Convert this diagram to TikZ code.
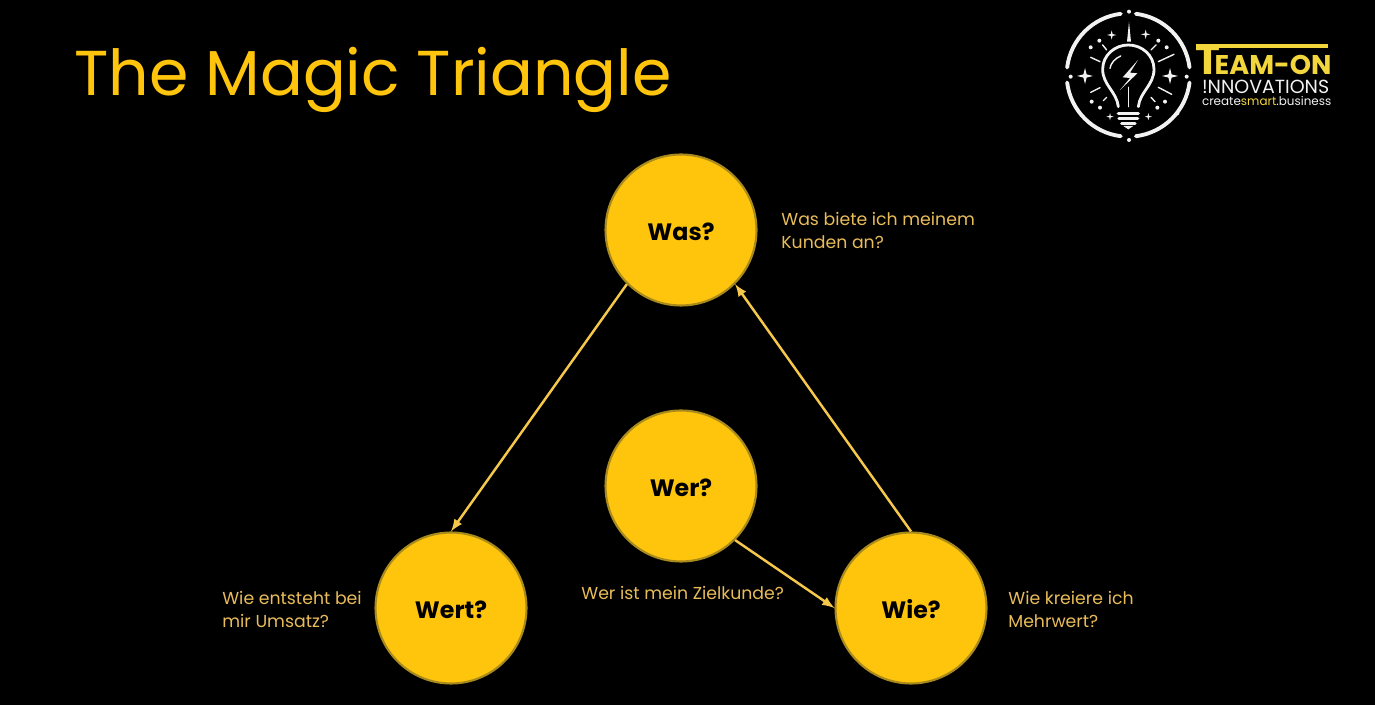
\documentclass[tikz,border=0pt]{standalone}
\usepackage{fontspec}
\setmainfont{Poppins}
\usetikzlibrary{calc}

\definecolor{gold}{HTML}{FFC50D}
\definecolor{goldline}{HTML}{A98A1C}
\definecolor{arrowgold}{HTML}{F5C84C}
\definecolor{labelgold}{HTML}{E9BC5A}
\definecolor{logoyellow}{HTML}{F2D63C}
\definecolor{logowhite}{HTML}{F2F2F2}

\tikzset{
bubble/.style={circle,fill=gold,draw=goldline,line width=1.2pt,minimum size=3.02cm,inner sep=0pt,text=black,text height=12pt,text depth=0pt,font=\fontsize{13.5}{16}\selectfont\bfseries},
link/.style={draw=arrowgold,line width=1.4pt,-latex},
hint/.style={anchor=north west,inner sep=0pt,align=left,text=labelgold,font=\fontsize{9.85}{13}\selectfont},
logoline/.style={draw=logowhite,line width=1.6pt,line cap=round},
logoray/.style={draw=logowhite,line width=.8pt,line cap=round},
logotext/.style={anchor=base west,inner sep=0pt}
}
\newcommand{\logostar}[2]{\fill[logowhite] (#1) +(-#2,0) -- +(-#2*.2,-#2*.2) -- +(0,-#2) -- +(#2*.2,-#2*.2) -- +(#2,0) -- +(#2*.2,#2*.2) -- +(0,#2) -- +(-#2*.2,#2*.2) -- cycle;}

\begin{document}
\begin{tikzpicture}[x=0.02cm,y=-0.02cm]
\useasboundingbox (0,0) rectangle (1375,705);
\fill[black] (0,0) rectangle (1375,705);

\node[anchor=base west,inner sep=0pt,text=gold,font=\fontsize{36.1}{40}\selectfont] (title) at (74,96){The Magic Triangle};

\node[bubble] (was) at (681,230){Was?};
\node[bubble] (wer) at (681,486){Wer?};
\node[bubble] (wert) at (451,608){Wert?};
\node[bubble] (wie) at (911,608){Wie?};

\draw[link] (was.225) -- (wert.north);
\draw[link] (wie.north) -- (was.-45);
\draw[link] (wer.-45) -- (wie.west);

\node[hint] (washint) at (781,212){Was biete ich meinem\\Kunden an?};
\node[hint] (werhint) at (581,586){Wer ist mein Zielkunde?};
\node[hint] (werthint) at (222,591){Wie entsteht bei\\mir Umsatz?};
\node[hint] (wiehint) at (1008,591){Wie kreiere ich\\Mehrwert?};

% logo
\begin{scope}[shift={(1050,0)},x=0.00667cm,y=-0.00667cm]
\foreach \a/\b in {7/83,97/173,187/263,277/353}
  \draw[logoline,line width=2.2pt] (235,225) +(\a:185) arc[start angle=\a,end angle=\b,radius=185];
\foreach \p in {(237,35),(62,230),(410,230),(237,420),(148,122),(325,122),(122,142),(350,142),(125,305),(345,305),(150,323),(322,323),(382,340)}
  \fill[logowhite] \p circle (6);
\fill[logowhite] (237,65) -- (243,125) -- (231,125) -- cycle;
\logostar{185,105}{14}
\logostar{287,103}{14}
\logostar{105,228}{24}
\logostar{360,228}{24}
\logostar{180,350}{11}
\logostar{295,350}{11}
\draw[logoray] (122,172) -- (150,185);
\draw[logoray] (325,185) -- (372,163);
\draw[logoray] (122,277) -- (150,263);
\draw[logoray] (325,262) -- (365,283);
\draw[logoray] (158,135) -- (170,150);
\draw[logoray] (318,135) -- (303,150);
\draw[logoray] (160,302) -- (170,292);
\draw[logoray] (303,292) -- (315,305);
% bulb
\draw[logoline] (205,320) .. controls (200,275) and (158,255) .. (158,208) .. controls (158,165) and (195,135) .. (235,135) .. controls (275,135) and (312,165) .. (312,208) .. controls (312,255) and (270,275) .. (265,320);
\draw[logoray] (235,262) -- (235,320);
\draw[logoray] (180,205) .. controls (182,190) and (195,175) .. (212,168);
\fill[logowhite] (264,180) -- (218,232) -- (240,234) -- (210,270) -- (262,220) -- (240,218) -- cycle;
\foreach \y/\w in {340/30,355/28,370/20}
  \draw[logoline,line width=1.9pt] (235-\w,\y) -- (235+\w,\y);
\fill[logowhite] (220,378) -- (250,378) -- (235,388) -- cycle;
% logo text
\draw[logoyellow,line width=2.4pt] (437,138) -- (835,138);
\node[logotext,text=logoyellow,font=\fontsize{15.4}{16}\selectfont\bfseries] (teamon) at (434,225){{\fontsize{24}{24}\selectfont T}\kern-3pt EAM-ON};
\node[logotext,text=logowhite,font=\fontsize{10.8}{12}\selectfont] (innov) at (455,280){!NNOVATIONS};
\node[logotext,text=logowhite,font=\fontsize{6.8}{9}\selectfont] (claim) at (455,316){create\textcolor{logoyellow}{smart}.business};
\end{scope}
\end{tikzpicture}
\end{document}
